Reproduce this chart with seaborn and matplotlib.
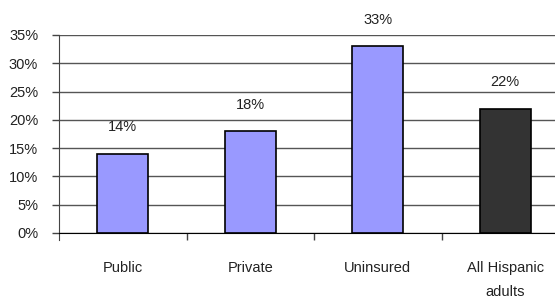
import pandas as pd
import matplotlib.pyplot as plt
import seaborn as sns

categories = ["Public", "Private", "Uninsured", "All Hispanic\nadults"]
values = [14, 18, 33, 22]
bar_colors = ["#9999FF", "#9999FF", "#9999FF", "#333333"]

df = pd.DataFrame({"group": categories, "pct": values})

sns.set_style("white")
plt.rcParams['font.family'] = ['Liberation Sans', 'DejaVu Sans']

fig = plt.figure(figsize=(5.55, 2.99), dpi=100)
ax = fig.add_axes([59 / 555, 66 / 299, 510 / 555, 198 / 299])

sns.barplot(data=df, x="group", y="pct", hue="group", palette=bar_colors, saturation=1,
            width=0.4, edgecolor="black", linewidth=1.2, legend=False, ax=ax)

ax.set_ylim(0, 35)
ax.set_xlim(-0.5, len(categories) - 0.5)
ax.set_yticks(range(0, 36, 5))
ax.set_yticklabels([f"{t}%" for t in range(0, 36, 5)], fontsize=10.5, color="#222222")
ax.yaxis.grid(True, color="#555555", linewidth=1)
ax.set_axisbelow(True)

# category boundaries carry the tick marks, labels sit in between
ax.set_xticks([i + 0.5 for i in range(len(categories) - 1)], minor=False)
ax.set_xticklabels([])
ax.set_xticks(range(len(categories)), minor=True)
ax.set_xticklabels(categories, minor=True, fontsize=10.5, color="#222222", linespacing=1.95, va="top")
ax.tick_params(axis="x", which="major", length=5, width=1, color="#444444", direction="out", bottom=True)
ax.tick_params(axis="x", which="minor", length=0, pad=20)
ax.tick_params(axis="y", length=5, width=1, color="#444444", direction="out", left=True, pad=10)

for side in ["top", "right"]:
    ax.spines[side].set_visible(False)
ax.spines["left"].set_color("#444444")
ax.spines["bottom"].set_color("black")
ax.spines["left"].set_bounds(-1.2, 35)

for i, v in enumerate(values):
    ax.annotate(f"{v}%", (i, v), xytext=(0, 19), textcoords="offset points",
                ha="center", va="center", fontsize=10.5, color="#222222")

ax.set_xlabel("")
ax.set_ylabel("")

fig.savefig("out.png", dpi=100)
